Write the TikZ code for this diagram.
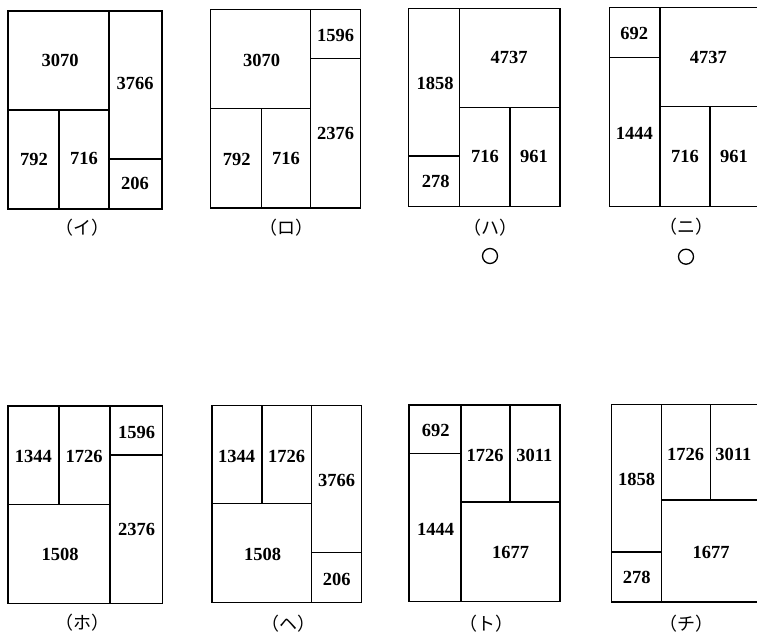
\documentclass[tikz,border=0pt]{standalone}
\usepackage{fontspec}
\setmainfont{Liberation Serif}
\newfontfamily\jpfont{Noto Sans CJK JP}
\tikzset{
  box/.style={draw=black, line width=1.4pt},
  part/.style={draw=black, line width=1.2pt},
  num/.style={font=\bfseries\fontsize{18.5}{20}\selectfont, inner sep=0pt},
  lab/.style={font=\jpfont\fontsize{18}{20}\selectfont, inner sep=0pt},
  okmark/.style={draw=black, line width=1.3pt, circle, minimum size=15pt, inner sep=0pt}
}
\begin{document}
\begin{tikzpicture}[x=1pt,y=-1pt]
\clip (0,0) rectangle (757,634);
\fill[white] (0,0) rectangle (757,634);
% (イ)
\draw[box] (8,11) rectangle (162,209);
\draw[part] (109,11) -- (109,209);
\draw[part] (8,110) -- (109,110);
\draw[part] (59,110) -- (59,209);
\draw[part] (109,159) -- (162,159);
\node[num] (a1) at (60,60) {3070};
\node[num] (a2) at (135,83) {3766};
\node[num] (a3) at (34,159) {792};
\node[num] (a4) at (84,158) {716};
\node[num] (a5) at (135,183) {206};
\node[lab] (la) at (82,228) {（イ）};
% (ロ)
\draw[box] (210.7,9.3) rectangle (360.7,208);
\draw[part] (310.7,9.3) -- (310.7,208);
\draw[part] (210.7,108.7) -- (310.7,108.7);
\draw[part] (261.7,108.7) -- (261.7,208);
\draw[part] (310.7,58.7) -- (360.7,58.7);
\node[num] (b1) at (261.7,60) {3070};
\node[num] (b2) at (335.7,35) {1596};
\node[num] (b3) at (236.7,159) {792};
\node[num] (b4) at (286,158) {716};
\node[num] (b5) at (335.7,133.3) {2376};
\node[lab] (lb) at (286.7,228) {（ロ）};
% (ハ)
\draw[box] (408.3,8.3) rectangle (560,206.7);
\draw[part] (459.3,8.3) -- (459.3,206.7);
\draw[part] (408.3,156) -- (459.3,156);
\draw[part] (459.3,107.7) -- (560,107.7);
\draw[part] (510,107.7) -- (510,206.7);
\node[num] (c1) at (435,83.3) {1858};
\node[num] (c2) at (509,57.7) {4737};
\node[num] (c3) at (435.7,181.7) {278};
\node[num] (c4) at (485,156) {716};
\node[num] (c5) at (534,156) {961};
\node[lab] (lc) at (490,227.7) {（ハ）};
\node[okmark] (mc) at (490,256) {};
% (ニ)
\draw[box] (609.3,7.3) rectangle (760,206.7);
\draw[part] (660,7.3) -- (660,206.7);
\draw[part] (609.3,57.3) -- (660,57.3);
\draw[part] (660,106.7) -- (760,106.7);
\draw[part] (710,106.7) -- (710,206.7);
\node[num] (d1) at (634.3,33.3) {692};
\node[num] (d2) at (708.3,57.3) {4737};
\node[num] (d3) at (634.3,133.3) {1444};
\node[num] (d4) at (685,156) {716};
\node[num] (d5) at (734,156) {961};
\node[lab] (ld) at (686,227) {（ニ）};
\node[okmark] (md) at (686,256.7) {};
% (ホ)
\draw[box] (8,406) rectangle (162.3,603.3);
\draw[part] (110,406) -- (110,603.3);
\draw[part] (8,504.3) -- (110,504.3);
\draw[part] (59,406) -- (59,504.3);
\draw[part] (110,455) -- (162.3,455);
\node[num] (e1) at (33.3,456.7) {1344};
\node[num] (e2) at (84,456.7) {1726};
\node[num] (e3) at (136.7,432.3) {1596};
\node[num] (e4) at (136.7,529.3) {2376};
\node[num] (e5) at (60,554.3) {1508};
\node[lab] (le) at (82,623) {（ホ）};
% (ヘ)
\draw[box] (212,405.7) rectangle (361.7,602.7);
\draw[part] (311.7,405.7) -- (311.7,602.7);
\draw[part] (212,503.3) -- (311.7,503.3);
\draw[part] (262,405.7) -- (262,503.3);
\draw[part] (311.7,552.7) -- (361.7,552.7);
\node[num] (f1) at (236.7,456) {1344};
\node[num] (f2) at (286.7,456) {1726};
\node[num] (f3) at (336.7,480) {3766};
\node[num] (f4) at (262.7,554.3) {1508};
\node[num] (f5) at (336.7,579.3) {206};
\node[lab] (lf) at (288,624) {（ヘ）};
% (ト)
\draw[box] (409,405) rectangle (560,601.7);
\draw[part] (461,405) -- (461,601.7);
\draw[part] (409,453.3) -- (461,453.3);
\draw[part] (461,502) -- (560,502);
\draw[part] (510,405) -- (510,502);
\node[num] (g1) at (435.7,430.7) {692};
\node[num] (g2) at (485,455) {1726};
\node[num] (g3) at (534.3,455) {3011};
\node[num] (g4) at (435.7,529.3) {1444};
\node[num] (g5) at (510.7,552.7) {1677};
\node[lab] (lg) at (486.7,623.3) {（ト）};
% (チ)
\draw[box] (611.7,404.3) rectangle (761,602);
\draw[part] (661.7,404.3) -- (661.7,602);
\draw[part] (611.7,552) -- (661.7,552);
\draw[part] (661.7,500) -- (761,500);
\draw[part] (710.7,404.3) -- (710.7,500);
\node[num] (h1) at (636.7,479.3) {1858};
\node[num] (h2) at (685.7,454.3) {1726};
\node[num] (h3) at (733.3,454.3) {3011};
\node[num] (h4) at (711,552.7) {1677};
\node[num] (h5) at (636.7,577.3) {278};
\node[lab] (lh) at (686.7,623.3) {（チ）};
\end{tikzpicture}
\end{document}
